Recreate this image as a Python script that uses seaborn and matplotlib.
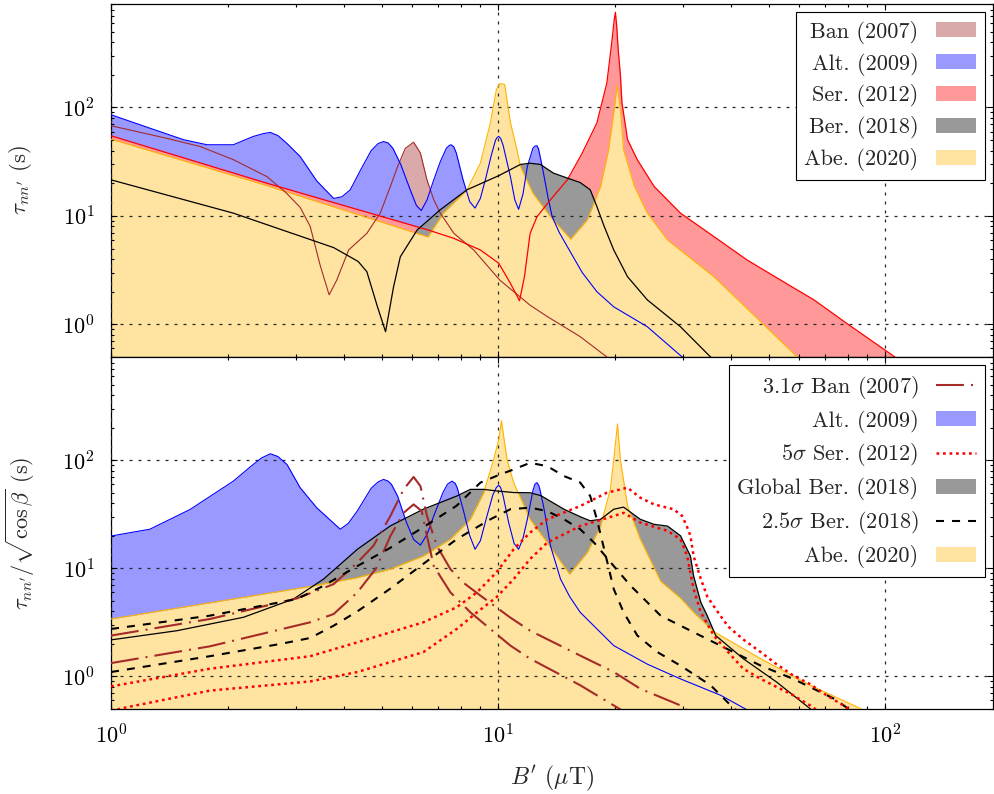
import matplotlib
matplotlib.use("Agg")
import matplotlib.pyplot as plt
from matplotlib.lines import Line2D
from matplotlib.patches import Patch
import seaborn as sns

# ---------------- top panel: tau_nn' ----------------
top_ban_x = [1.0, 1.39, 1.70, 2.07, 2.53, 2.84, 3.08, 3.27, 3.47, 3.66, 3.83, 4.11, 4.58, 4.96, 5.27,
             5.5, 5.76, 6.05, 6.3, 6.55, 6.82, 7.09, 7.69, 8.65, 10.1, 12.1, 13.4, 16.3, 19.1, 20.5]
top_ban_y = [67.8, 52.0, 43.6, 33.0, 23.0, 16.2, 12.0, 8.0, 3.5, 1.87, 2.56, 4.85, 6.9, 10.6, 18.7,
             28.5, 42.0, 47.8, 38.0, 21.5, 14.1, 10.6, 6.9, 4.85, 2.56, 1.5, 1.18, 0.77, 0.5, 0.42]

top_alt_x = [1.0, 1.26, 1.54, 1.77, 2.07, 2.33, 2.48, 2.58, 2.7, 2.84, 3.08, 3.40, 3.76, 3.95, 4.15,
             4.4, 4.7, 4.9, 5.06, 5.2, 5.35, 5.6, 5.93, 6.15, 6.33, 6.55, 6.82, 7.1, 7.35, 7.47,
             7.56, 7.68, 7.8, 8.12, 8.45, 8.72, 9.0, 9.27, 9.6, 9.85, 9.95, 10.04, 10.15, 10.3, 10.76,
             11.05, 11.3, 11.6, 11.9, 12.3, 12.45, 12.6, 12.72, 12.85, 13.1, 13.45, 13.8, 14.4, 15.1,
             16.5, 18.0, 19.9, 24.3, 29.9, 31.5]
top_alt_y = [85.6, 64.4, 50.4, 45.3, 45.3, 54.0, 57.5, 58.8, 55.0, 47.0, 35.3, 21.0, 14.5, 15.0, 17.4,
             26.0, 40.0, 46.5, 48.5, 47.0, 42.0, 30.0, 17.4, 12.5, 11.2, 14.0, 21.5, 32.0, 42.0, 44.5,
             45.3, 43.5, 38.0, 21.5, 13.5, 11.8, 14.5, 21.5, 36.0, 50.0, 53.0, 54.0, 52.0, 45.0, 23.0,
             14.0, 11.5, 16.0, 28.5, 42.0, 44.0, 44.4, 41.5, 35.0, 24.8, 15.0, 9.8, 7.0, 5.2,
             3.0, 2.0, 1.45, 0.95, 0.5, 0.45]

top_ser_x = [1.0, 2.53, 6.59, 7.69, 9.0, 10.04, 10.76, 11.36, 11.7, 12.1, 12.6, 13.66, 15.1, 16.5,
             18.0, 19.1, 19.7, 19.95, 20.1, 20.25, 20.45, 20.7, 20.9, 21.6, 22.9, 25.3, 29.6, 36.1,
             44.0, 53.7, 65.5, 79.6, 106.0, 115.0]
top_ser_y = [54.8, 20.0, 7.42, 6.2, 4.85, 3.66, 2.39, 1.65, 2.75, 6.9, 9.8, 14.1, 21.5, 38.0,
             72.0, 168.0, 420.0, 640.0, 754.0, 560.0, 330.0, 200.0, 110.0, 50.5, 32.9, 18.7, 10.6, 6.45,
             3.92, 2.56, 1.68, 1.02, 0.5, 0.42]

top_ber_x = [1.0, 2.07, 3.76, 4.35, 4.58, 4.88, 5.12, 5.37, 5.59, 6.18, 7.09, 8.31, 10.04, 11.42,
             12.1, 12.87, 13.9, 15.0, 16.3, 17.3, 18.0, 18.8, 19.9, 21.6, 24.3, 29.6, 35.4, 37.5]
top_ber_y = [21.5, 10.6, 5.1, 3.8, 3.06, 1.45, 0.855, 2.22, 4.2, 7.42, 11.4, 17.4, 23.5, 29.8,
             30.6, 29.8, 24.8, 22.5, 20.3, 17.4, 12.2, 8.0, 4.85, 2.75, 1.68, 0.95, 0.5, 0.43]

top_abe_x = [1.0, 2.53, 6.59, 7.22, 8.31, 9.0, 9.55, 9.9, 10.1, 10.4, 10.76, 11.2, 11.42, 12.3,
             13.66, 15.4, 17.0, 18.4, 19.3, 19.9, 20.3, 20.7, 21.1, 22.5, 24.3, 27.4, 36.1, 59.3, 63.0]
top_abe_y = [51.0, 19.0, 6.4, 10.6, 17.4, 30.6, 71.8, 146.0, 166.0, 163.0, 73.0, 40.0, 28.5, 16.2,
             9.8, 6.1, 9.2, 18.7, 40.7, 88.8, 159.0, 95.0, 40.7, 18.7, 10.6, 6.0, 2.75, 0.5, 0.43]

# ---------------- bottom panel: tau_nn' / sqrt(cos beta) ----------------
bot_alt_x = [1.0, 1.26, 1.6, 2.07, 2.3, 2.45, 2.58, 2.7, 2.85, 3.08, 3.4, 3.91, 4.1, 4.33, 4.7,
             4.9, 5.06, 5.2, 5.3, 5.5, 5.8, 6.05, 6.3, 6.55, 6.82, 7.2, 7.4, 7.6, 7.75, 7.85,
             8.12, 8.45, 8.72, 9.0, 9.36, 9.7, 9.9, 10.04, 10.15, 10.3, 10.65, 11.0, 11.3, 11.6,
             11.9, 12.3, 12.45, 12.6, 12.75, 12.85, 13.1, 13.4, 13.66, 14.5, 15.3, 16.3, 19.9, 24.3,
             29.6, 37.6, 43.6, 46.0]
bot_alt_y = [19.9, 23.0, 35.0, 64.0, 88.0, 105.0, 114.6, 108.0, 91.0, 55.7, 36.3, 23.0, 26.0, 34.0,
             55.0, 63.0, 66.4, 64.0, 60.0, 46.6, 26.5, 18.5, 16.4, 20.5, 30.5, 50.0, 60.0, 64.0,
             61.0, 55.0, 35.2, 20.0, 15.0, 18.0, 30.5, 48.0, 56.0, 58.6, 56.0, 47.0, 26.5, 17.0,
             15.0, 19.0, 28.4, 52.0, 60.0, 62.0, 58.0, 52.0, 37.7, 24.0, 16.1, 7.95, 5.5, 3.92,
             1.93, 1.3, 0.95, 0.67, 0.5, 0.45]

bot_ber_x = [1.0, 1.48, 2.2, 2.96, 3.54, 4.33, 5.27, 6.41, 7.82, 8.48, 9.18, 9.9, 10.97, 12.1, 12.9,
             13.4, 14.8, 16.3, 17.3, 18.4, 19.9, 21.1, 23.3, 25.3, 27.4, 29.6, 31.4, 32.0, 33.4, 34.7,
             36.5, 43.0, 52.4, 64.0, 67.0]
bot_ber_y = [2.18, 2.65, 3.53, 5.2, 7.95, 15.0, 24.7, 35.2, 46.6, 53.7, 53.7, 52.0, 50.2, 50.0, 47.0,
             43.4, 35.2, 30.0, 27.5, 28.4, 35.2, 36.8, 28.4, 25.5, 24.6, 20.0, 13.0, 8.5, 4.85, 3.65,
             2.39, 1.46, 0.89, 0.504, 0.45]

bot_abe_x = [1.0, 3.27, 4.33, 5.27, 6.41, 7.53, 8.48, 9.18, 9.74, 10.04, 10.2, 10.55, 10.97, 12.1,
             13.4, 15.3, 17.0, 18.4, 19.5, 19.9, 20.35, 20.7, 21.6, 23.3, 26.3, 29.6, 32.0, 36.1,
             47.7, 64.0, 86.5, 92.0]
bot_abe_y = [3.4, 6.8, 8.2, 9.84, 13.0, 18.6, 28.4, 50.0, 101.0, 155.0, 232.0, 101.0, 62.0, 28.4,
             17.3, 8.84, 14.0, 24.6, 53.7, 101.0, 216.0, 101.0, 37.7, 18.6, 7.6, 5.3, 3.92, 2.6,
             1.46, 0.83, 0.504, 0.45]

# 2.5 sigma Ber. (2018), two dashed curves
ber25_a_x = [1.0, 1.8, 3.02, 3.54, 4.33, 5.27, 6.41, 7.82, 9.0, 10.14, 10.76, 12.1, 13.4, 14.8,
             16.3, 17.3, 18.0, 18.8, 19.9, 21.1, 22.9, 25.8, 29.6, 35.4, 40.7, 43.0]
ber25_a_y = [2.75, 3.65, 5.2, 6.9, 10.5, 15.5, 24.0, 38.0, 62.0, 74.0, 80.0, 94.5, 88.0, 71.3,
             62.1, 46.6, 28.4, 15.0, 6.43, 3.92, 2.39, 1.68, 1.26, 0.83, 0.504, 0.45]
ber25_b_x = [1.0, 1.8, 2.74, 3.27, 3.76, 4.33, 5.27, 6.41, 7.82, 9.55, 10.76, 12.1, 13.4, 14.8,
             16.3, 17.7, 19.9, 22.0, 24.3, 26.3, 29.6, 36.1, 47.7, 57.9, 74.0, 79.3, 82.0]
ber25_b_y = [1.1, 1.54, 2.0, 2.27, 2.95, 4.0, 6.5, 11.0, 18.6, 28.4, 35.2, 36.4, 33.8, 28.4,
             23.0, 17.3, 10.5, 6.9, 4.85, 3.65, 2.95, 2.07, 1.26, 0.95, 0.62, 0.52, 0.48]

# 5 sigma Ser. (2012), two dotted curves
ser5_a_x = [1.0, 1.8, 3.27, 4.33, 6.41, 7.82, 8.82, 9.9, 10.97, 12.1, 13.4, 16.3, 19.1, 21.6, 23.3,
            25.3, 28.4, 29.9, 30.8, 31.4, 32.0, 33.4, 34.7, 36.5, 39.3, 43.0, 47.7, 52.4, 57.9, 64.0,
            70.6, 78.0, 82.0]
ser5_a_y = [0.81, 1.18, 1.54, 2.07, 3.17, 4.37, 6.0, 9.17, 15.0, 21.4, 28.4, 37.7, 50.0, 55.7, 45.0,
            39.0, 35.2, 30.5, 24.0, 20.0, 13.0, 8.0, 5.5, 4.2, 2.9, 2.2, 1.68, 1.3, 1.02, 0.85,
            0.67, 0.54, 0.48]
ser5_b_x = [1.0, 1.1, 1.8, 3.27, 4.33, 6.41, 7.82, 8.82, 9.9, 10.97, 12.1, 13.4, 16.3, 19.9, 21.1,
            23.3, 27.4, 29.6, 30.8, 32.0, 33.4, 36.1, 39.3, 43.0, 47.7, 57.9, 64.0, 67.0]
ser5_b_y = [0.48, 0.52, 0.74, 0.9, 1.1, 1.68, 2.75, 3.92, 5.4, 7.95, 12.2, 17.3, 24.6, 30.5, 32.6,
            26.5, 22.2, 18.6, 13.0, 6.43, 3.92, 2.39, 1.68, 1.18, 0.95, 0.67, 0.54, 0.48]

# 3.1 sigma Ban (2007), two dash-dot curves
ban31_a_x = [1.0, 1.8, 3.02, 3.76, 4.33, 4.76, 5.27, 5.7, 6.05, 6.3, 6.55, 6.95, 7.53, 8.12, 9.0,
             10.76, 12.1, 16.3, 19.9, 23.3, 29.6, 31.0]
ban31_a_y = [2.39, 3.4, 5.27, 7.15, 11.3, 16.1, 30.5, 53.7, 70.0, 57.6, 30.5, 16.1, 9.84, 7.4, 5.6,
             3.5, 2.65, 1.56, 1.1, 0.77, 0.54, 0.48]
ban31_b_x = [1.0, 1.8, 3.27, 3.76, 4.33, 4.84, 5.27, 5.7, 6.05, 6.35, 6.55, 6.82, 7.53, 8.48, 9.55,
             10.76, 12.1, 16.3, 19.9, 21.0]
ban31_b_y = [1.33, 1.9, 3.17, 3.78, 6.0, 10.0, 19.9, 32.6, 39.0, 33.8, 19.9, 10.5, 6.0, 3.92, 2.75,
             1.93, 1.46, 0.83, 0.54, 0.48]

top_labels = ["Ban (2007)", "Alt. (2009)", "Ser. (2012)", "Ber. (2018)", "Abe. (2020)"]
bot_labels = [r"3.1$\sigma$ Ban (2007)", "Alt. (2009)", r"5$\sigma$ Ser. (2012)",
              "Global Ber. (2018)", r"2.5$\sigma$ Ber. (2018)", "Abe. (2020)"]

BROWN = "#A52A2A"
C_BAN = "#DAA9A9"
C_ALT = "#9999FF"
C_SER = "#FF9999"
C_BER = "#999999"
C_ABE = "#FFE4A1"
C_ABE_EDGE = "#FFB300"

DASHDOT = (0, (13.4, 3.4, 0.95, 3.4))
DASHED = (0, (3.85, 3.85))
DOTTED = (0, (1.1, 1.5))

sns.set_theme(style="ticks")
plt.rcParams.update({
    "font.family": "cmr10",
    "mathtext.fontset": "cm",
    "axes.formatter.use_mathtext": True,
    "font.size": 16,
    "axes.linewidth": 0.9,
    "axes.edgecolor": "black",
    "xtick.color": "black",
    "ytick.color": "black",
})


def curve(ax, xs, ys, color, lw=0.8, ls="-"):
    sns.lineplot(x=xs, y=ys, color=color, linewidth=lw, linestyle=ls, sort=False,
                 estimator=None, errorbar=None, ax=ax, zorder=3)


def band(ax, xs, ys, color):
    ax.fill_between(xs, ys, 0.1, color=color, linewidth=0, zorder=1)


fig = plt.figure(figsize=(9.95, 7.94), dpi=100)
ax1 = fig.add_axes([0.1116, 0.5504, 0.8864, 0.4446])
ax2 = fig.add_axes([0.1116, 0.1070, 0.8864, 0.4434])

for ax in (ax1, ax2):
    ax.set_xscale("log")
    ax.set_yscale("log")
    ax.set_xlim(1, 190)
    ax.set_ylim(0.5, 900)

# top panel
band(ax1, top_ban_x, top_ban_y, C_BAN)
band(ax1, top_alt_x, top_alt_y, C_ALT)
band(ax1, top_ser_x, top_ser_y, C_SER)
band(ax1, top_ber_x, top_ber_y, C_BER)
band(ax1, top_abe_x, top_abe_y, C_ABE)
curve(ax1, top_abe_x, top_abe_y, C_ABE_EDGE, lw=0.8)
curve(ax1, top_ban_x, top_ban_y, BROWN, lw=0.8)
curve(ax1, top_alt_x, top_alt_y, "blue", lw=0.8)
curve(ax1, top_ser_x, top_ser_y, "red", lw=0.9)
curve(ax1, top_ber_x, top_ber_y, "black", lw=0.9)

# bottom panel
band(ax2, bot_alt_x, bot_alt_y, C_ALT)
band(ax2, bot_ber_x, bot_ber_y, C_BER)
band(ax2, bot_abe_x, bot_abe_y, C_ABE)
curve(ax2, bot_abe_x, bot_abe_y, C_ABE_EDGE, lw=0.8)
curve(ax2, bot_alt_x, bot_alt_y, "blue", lw=0.8)
curve(ax2, bot_ber_x, bot_ber_y, "black", lw=0.9)
curve(ax2, ban31_a_x, ban31_a_y, BROWN, lw=1.5, ls=DASHDOT)
curve(ax2, ban31_b_x, ban31_b_y, BROWN, lw=1.5, ls=DASHDOT)
curve(ax2, ber25_a_x, ber25_a_y, "black", lw=1.5, ls=DASHED)
curve(ax2, ber25_b_x, ber25_b_y, "black", lw=1.5, ls=DASHED)
curve(ax2, ser5_a_x, ser5_a_y, "red", lw=1.8, ls=DOTTED)
curve(ax2, ser5_b_x, ser5_b_y, "red", lw=1.8, ls=DOTTED)

for ax in (ax1, ax2):
    ax.set_axisbelow(False)
    ax.grid(True, which="major", color="0.15", linewidth=0.9, linestyle=(0, (2.4, 4.8)))
    ax.grid(False, which="minor")
    ax.tick_params(which="both", direction="in", top=True, right=True, width=0.8,
                   labelsize=16)
    ax.tick_params(which="major", length=4.5)
    ax.tick_params(which="minor", length=2.5)
    ax.tick_params(axis="y", which="major", pad=12)
    ax.tick_params(axis="x", which="major", pad=10)

ax1.tick_params(labelbottom=False)
ax1.set_xlabel("")
ax1.set_ylabel(r"$\tau_{nn^\prime}$ (s)", fontsize=16.5)
ax2.set_ylabel(r"$\tau_{nn^\prime}/\sqrt{\cos\beta}$ (s)", fontsize=16)
ax2.set_xlabel(r"$B^\prime$ ($\mu$T)", fontsize=17)
ax1.yaxis.set_label_coords(-0.087, 0.5)
ax2.yaxis.set_label_coords(-0.084, 0.5)
ax2.xaxis.set_label_coords(0.5, -0.155)

leg_kw = dict(loc="upper right", markerfirst=False, frameon=True, fancybox=False,
              framealpha=1, edgecolor="black", fontsize=16, handlelength=1.8,
              handleheight=0.65, handletextpad=0.8, borderpad=0.4, labelspacing=0.4,
              borderaxespad=0.35)

top_handles = [Patch(facecolor=c, edgecolor="none", label=l)
               for c, l in zip([C_BAN, C_ALT, C_SER, C_BER, C_ABE], top_labels)]
leg1 = ax1.legend(handles=top_handles, **leg_kw)
leg1.get_frame().set_linewidth(0.8)

bot_handles = [
    Line2D([], [], color=BROWN, lw=1.5, linestyle=DASHDOT, label=bot_labels[0]),
    Patch(facecolor=C_ALT, edgecolor="none", label=bot_labels[1]),
    Line2D([], [], color="red", lw=1.8, linestyle=DOTTED, label=bot_labels[2]),
    Patch(facecolor=C_BER, edgecolor="none", label=bot_labels[3]),
    Line2D([], [], color="black", lw=1.5, linestyle=DASHED, label=bot_labels[4]),
    Patch(facecolor=C_ABE, edgecolor="none", label=bot_labels[5]),
]
leg2 = ax2.legend(handles=bot_handles, **leg_kw)
leg2.get_frame().set_linewidth(0.8)

fig.savefig("out.png", dpi=100)
